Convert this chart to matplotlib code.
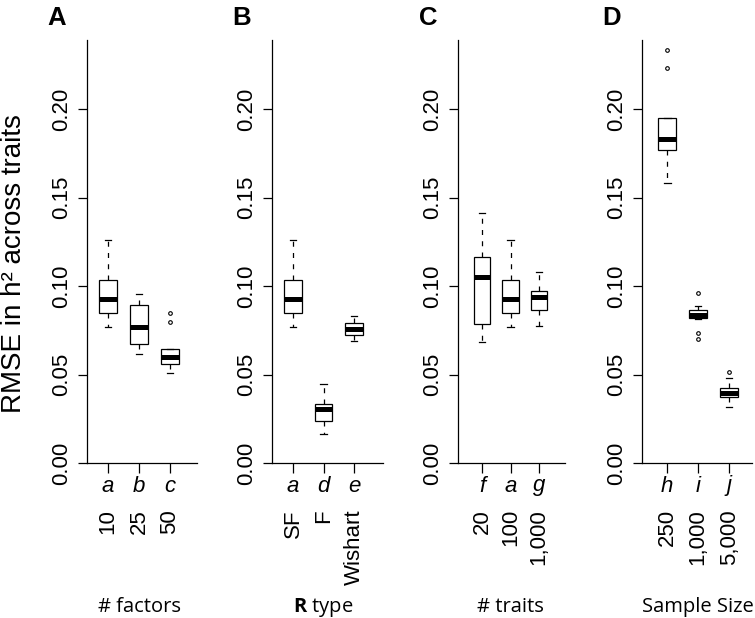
import matplotlib
matplotlib.use("Agg")
import matplotlib.pyplot as plt
import matplotlib.transforms as mtransforms

plt.rcParams['font.family'] = ['Liberation Sans', 'DejaVu Sans']
plt.rcParams['mathtext.fontset'] = 'custom'
plt.rcParams['mathtext.bf'] = 'Open Sans:bold'
plt.rcParams['mathtext.rm'] = 'Open Sans'

# data
panel_letters = ['A', 'B', 'C', 'D']
xtitles = ['# factors', r'$\mathbf{R}$ type', '# traits', 'Sample Size']
codes = [['a', 'b', 'c'], ['a', 'd', 'e'], ['f', 'a', 'g'], ['h', 'i', 'j']]
levels = [['10', '25', '50'], ['SF', 'F', 'Wishart'],
          ['20', '100', '1,000'], ['250', '1,000', '5,000']]
whislo = [[0.0770, 0.0616, 0.0507], [0.0770, 0.0162, 0.0689],
          [0.0685, 0.0770, 0.0776], [0.1580, 0.0815, 0.0315]]
q1 = [[0.0846, 0.0672, 0.0558], [0.0846, 0.0239, 0.0723],
      [0.0785, 0.0846, 0.0864], [0.1768, 0.0822, 0.0375]]
med = [[0.0927, 0.0770, 0.0597], [0.0927, 0.0307, 0.0755],
       [0.1053, 0.0927, 0.0940], [0.1831, 0.0838, 0.0394]]
q3 = [[0.1034, 0.0893, 0.0642], [0.1034, 0.0332, 0.0793],
      [0.1162, 0.1034, 0.0972], [0.1951, 0.0866, 0.0422]]
whishi = [[0.1260, 0.0953, 0.0642], [0.1260, 0.0446, 0.0832],
          [0.1414, 0.1260, 0.1081], [0.1951, 0.0887, 0.0478]]
fliers = [[[], [], [0.0846, 0.0795]],
          [[], [], []],
          [[], [], []],
          [[0.2333, 0.2233], [0.0959, 0.0733, 0.0699], [0.0512]]]
yticks = [0.0, 0.05, 0.10, 0.15, 0.20]
ytick_labels = ['0.00', '0.05', '0.10', '0.15', '0.20']

W, H = 755, 618
fig = plt.figure(figsize=(W / 100, H / 100), dpi=100)

# layout (pixels): y-axis x position, panel width, xlim
axis_x = [87, 272, 458, 642]
panel_w = [110, 111, 107, 110]
xlims = [(0.32, 3.87), (0.31, 3.95), (0.16, 3.91), (0.19, 3.74)]
top_px, bottom_px = 40, 463

for k in range(4):
    ax = fig.add_axes([axis_x[k] / W, 1 - bottom_px / H,
                       panel_w[k] / W, (bottom_px - top_px) / H])
    stats = []
    for j in range(3):
        stats.append(dict(med=med[k][j], q1=q1[k][j], q3=q3[k][j],
                          whislo=whislo[k][j], whishi=whishi[k][j],
                          fliers=fliers[k][j]))
    ax.bxp(stats, positions=[1, 2, 3], widths=0.58, capwidths=0.22,
           patch_artist=True,
           boxprops=dict(facecolor='white', edgecolor='black', linewidth=0.9),
           medianprops=dict(color='black', linewidth=3.6, solid_capstyle='butt'),
           whiskerprops=dict(color='black', linewidth=0.9, linestyle=(0, (4, 5))),
           capprops=dict(color='black', linewidth=0.9),
           flierprops=dict(marker='o', markersize=2.6, markerfacecolor='none',
                           markeredgecolor='black', markeredgewidth=0.8))
    ax.set_xlim(*xlims[k])
    ax.set_ylim(0, 0.239)
    ax.spines['top'].set_visible(False)
    ax.spines['right'].set_visible(False)
    for s in ['left', 'bottom']:
        ax.spines[s].set_linewidth(0.9)

    ax.set_yticks(yticks)
    ax.set_yticklabels(ytick_labels, rotation=90, va='center', fontsize=16)
    ax.tick_params(axis='y', length=6.5, width=0.9, pad=4)

    ax.set_xticks([1, 2, 3])
    ax.set_xticklabels(codes[k], fontsize=16, style='italic')
    ax.tick_params(axis='x', length=7, width=0.9, pad=2)

    trans = mtransforms.blended_transform_factory(ax.transData, fig.transFigure)
    for j in range(3):
        ax.text(j + 1, 1 - 509 / H, levels[k][j], rotation=90, ha='center',
                va='top', fontsize=16, transform=trans)
    ax.text(2, 1 - 612 / H, xtitles[k], ha='center', va='baseline',
            fontsize=14.5, family='Open Sans', transform=trans)

    fig.text((axis_x[k] - 30) / W, 1 - 25 / H, panel_letters[k], ha='center',
             va='baseline', fontsize=18.5, fontweight='bold')

fig.text(14 / W, 1 - 264 / H, 'RMSE in h² across traits', rotation=90,
         ha='center', va='center', fontsize=20)

fig.savefig('out.png', dpi=100)
